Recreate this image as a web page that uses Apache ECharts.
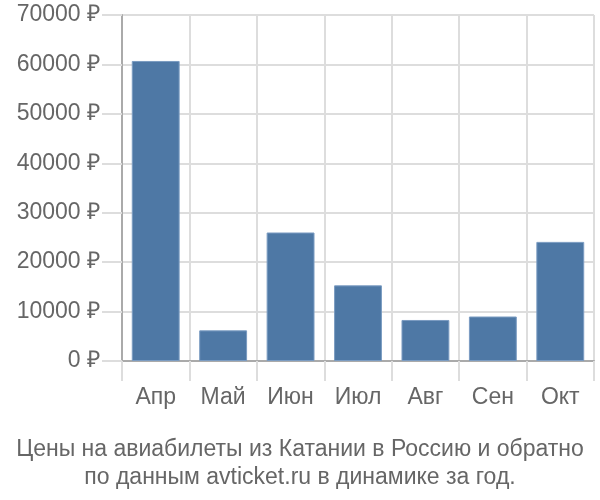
<!DOCTYPE html>
<html><head><meta charset="utf-8">
<script src="https://cdn.jsdelivr.net/npm/echarts@6/dist/echarts.min.js"></script>
<style>html,body{margin:0;padding:0;background:#fff}#c{width:600px;height:500px}</style>
</head><body><div id="c"></div>
<script>
const categories = ['Апр','Май','Июн','Июл','Авг','Сен','Окт'];
const prices = [60700, 6200, 26000, 15300, 8300, 9000, 24100];
const yTicks = [0, 10000, 20000, 30000, 40000, 50000, 60000, 70000];
const titleLines = ['Цены на авиабилеты из Катании в Россию и обратно', 'по данным avticket.ru в динамике за год.'];

const font = '"Liberation Sans", Arial, sans-serif';
const chart = echarts.init(document.getElementById('c'), null, {renderer:'canvas'});
chart.setOption({
  animation: false,
  title: titleLines.map((t, i) => ({
    text: t, left: 'center', top: 433 + i * 28,
    textStyle: {fontFamily: font, fontSize: 23, fontWeight: 'normal', color: '#666'}
  })),
  grid: {left: 122, right: 6, top: 15, bottom: 139, containLabel: false},
  xAxis: {
    type: 'category', data: categories,
    axisLine: {show: true, lineStyle: {color: '#aaa', width: 2}},
    axisTick: {show: true, length: 20, lineStyle: {color: '#ddd', width: 2}},
    splitLine: {show: true, lineStyle: {color: '#ddd', width: 2}},
    axisLabel: {fontFamily: font, fontSize: 23, color: '#666', margin: 25}
  },
  yAxis: {
    type: 'value', min: yTicks[0], max: yTicks[yTicks.length-1], interval: 10000,
    axisLine: {show: true, lineStyle: {color: '#aaa', width: 2}},
    axisTick: {show: true, length: 20, lineStyle: {color: '#ddd', width: 2}},
    splitLine: {show: true, lineStyle: {color: '#ddd', width: 2}},
    axisLabel: {fontFamily: font, fontSize: 23, color: '#666', margin: 22, formatter: v => v + ' ₽'}
  },
  series: [{
    type: 'bar', data: prices, barWidth: '71%',
    itemStyle: {color: '#4e78a5', borderColor: '#7b9cc2', borderWidth: 1}
  }]
});
</script></body></html>
